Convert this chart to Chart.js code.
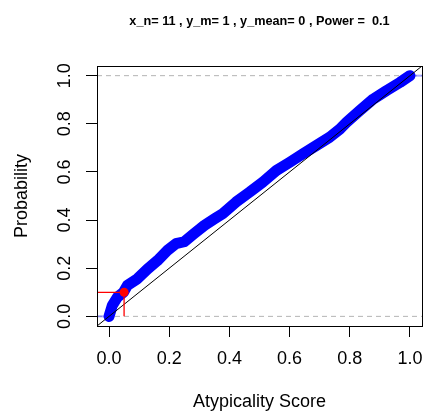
<!DOCTYPE html>
<html>
<head>
<meta charset="utf-8">
<script src="https://cdn.jsdelivr.net/npm/chart.js@4"></script>
<style>
  html, body { margin: 0; padding: 0; background: #fff; }
  canvas { display: block; }
</style>
</head>
<body>
<canvas id="plot" width="427" height="416" style="width:427px;height:416px"></canvas>
<script>
// data
const scoreX = [0, 0.011, 0.028, 0.048, 0.061, 0.094, 0.128, 0.161, 0.194, 0.222, 0.25, 0.283, 0.317, 0.35, 0.378,
                0.422, 0.467, 0.511, 0.556, 0.6, 0.644, 0.689, 0.733, 0.767, 0.789, 0.833, 0.878, 0.922, 0.967, 1.0];
const probY = [0, 0.046, 0.08, 0.10, 0.129, 0.156, 0.197, 0.232, 0.274, 0.302, 0.31, 0.344, 0.378, 0.405, 0.427,
               0.475, 0.516, 0.558, 0.606, 0.64, 0.675, 0.71, 0.744, 0.778, 0.806, 0.855, 0.903, 0.938, 0.972, 1.0];
const xTicks = [0, 0.2, 0.4, 0.6, 0.8, 1.0];
const yTicks = [0, 0.2, 0.4, 0.6, 0.8, 1.0];
const axisLim = [-0.04, 1.04];
const refLevels = [0, 1];
const cutoffX = 0.05;
const cutoffY = 0.1;

const fontFam = '"Liberation Sans", Arial, Helvetica, sans-serif';

const curve = scoreX.map((x, i) => ({ x, y: probY[i] }));

// dashed grey reference lines at 0 and 1
const refSets = refLevels.map(lv => ({
    data: axisLim.map(x => ({ x, y: lv })),
    borderColor: '#b4b4b4', borderWidth: 1, borderDash: [5, 4], order: 5
}));

// faint blue ends of the ecdf
const tailSets = [
    { data: [{ x: axisLim[0], y: 0 }, { x: scoreX[0], y: 0 }] },
    { data: [{ x: scoreX[scoreX.length - 1], y: 1 }, { x: axisLim[1], y: 1 }] }
].map(d => Object.assign(d, { borderColor: 'rgba(60,60,255,0.45)', borderWidth: 2, order: 4 }));

const boxPlugin = {
    id: 'box',
    afterDatasetsDraw(chart) {
        const { ctx, chartArea: a } = chart;
        ctx.save();
        ctx.strokeStyle = '#000';
        ctx.lineWidth = 1;
        ctx.strokeRect(Math.round(a.left) + 0.5, Math.round(a.top) + 0.5,
                       Math.round(a.right - a.left), Math.round(a.bottom - a.top));
        ctx.restore();
    }
};

new Chart(document.getElementById('plot'), {
    type: 'line',
    data: {
        datasets: [
            ...refSets,
            ...tailSets,
            { data: curve, borderColor: '#0000ff', borderWidth: 11, borderCapStyle: 'round', borderJoinStyle: 'round', order: 3 },
            { data: axisLim.map(v => ({ x: v, y: v })), borderColor: '#000', borderWidth: 1, order: 2 },
            { data: [{ x: axisLim[0], y: cutoffY }, { x: cutoffX, y: cutoffY }, { x: cutoffX, y: 0 }], borderColor: '#ff0000', borderWidth: 1.3, order: 1 },
            { data: [{ x: cutoffX, y: cutoffY }], showLine: false, pointRadius: 4.5, pointBackgroundColor: '#ff0000', pointBorderWidth: 0, order: 0 }
        ]
    },
    options: {
        responsive: false,
        devicePixelRatio: 1,
        animation: false,
        elements: { point: { radius: 0 }, line: { tension: 0 } },
        layout: { padding: { right: 5 } },
        plugins: {
            legend: { display: false },
            tooltip: { enabled: false },
            title: {
                display: true,
                fullSize: false,
                text: 'x_n= 11 , y_m= 1 , y_mean= 0 , Power =  0.1',
                color: '#000',
                font: { family: fontFam, size: 12.7, weight: 'bold' },
                padding: { top: 14, bottom: 36.8 }
            }
        },
        scales: {
            x: {
                type: 'linear', position: 'bottom',
                min: axisLim[0], max: axisLim[1],
                afterBuildTicks: s => { s.ticks = xTicks.map(v => ({ value: v })); },
                afterFit: s => { s.height = 90; s.paddingLeft = 0; s.paddingRight = 0; },
                ticks: { color: '#000', font: { family: fontFam, size: 18 }, padding: 11, maxRotation: 0, callback: v => v.toFixed(1) },
                grid: { drawOnChartArea: false, drawTicks: true, tickLength: 11, color: '#000' },
                border: { display: false },
                title: { display: true, text: 'Atypicality Score', color: '#000', font: { family: fontFam, size: 18 }, padding: { top: 0, bottom: 3 } }
            },
            y: {
                type: 'linear', position: 'left',
                min: axisLim[0], max: axisLim[1],
                afterBuildTicks: s => { s.ticks = yTicks.map(v => ({ value: v })); },
                afterFit: s => { s.width = 97; s.paddingTop = 0; s.paddingBottom = 0; },
                ticks: { color: '#000', font: { family: fontFam, size: 18 }, padding: 8.5, minRotation: 90, maxRotation: 90, crossAlign: 'center', callback: v => v.toFixed(1) },
                grid: { drawOnChartArea: false, drawTicks: true, tickLength: 11, color: '#000' },
                border: { display: false },
                title: { display: true, text: 'Probability', color: '#000', font: { family: fontFam, size: 18 }, padding: { top: 11, bottom: 0 } }
            }
        }
    },
    plugins: [boxPlugin]
});
</script>
</body>
</html>
